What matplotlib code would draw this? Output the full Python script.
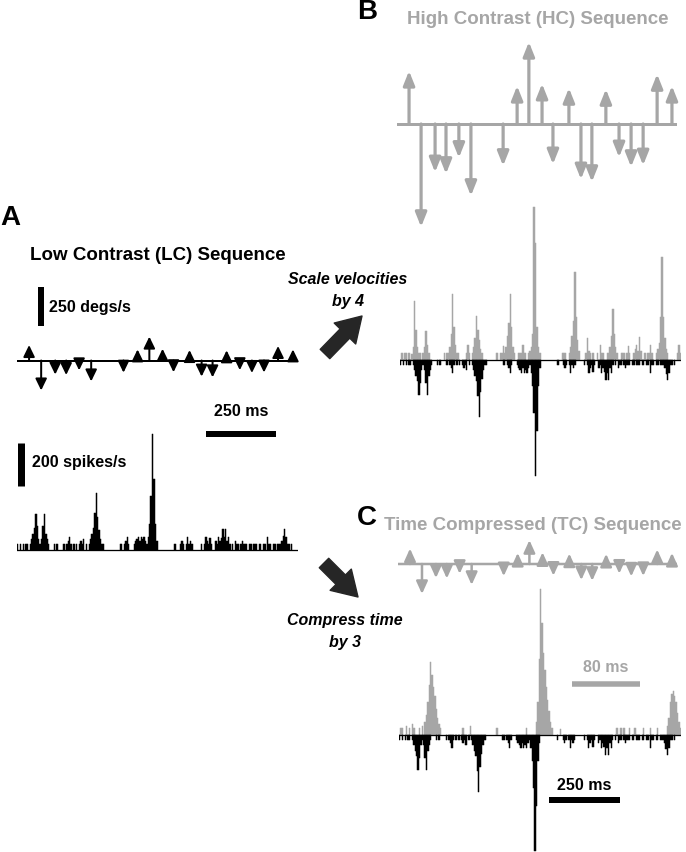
import numpy as np
import matplotlib.pyplot as plt

W, H, DPI = 686, 853, 100
GRAY = '#a6a6a6'
DARK = '#262626'
PT = 72 / DPI  # points per pixel

plt.rcParams['font.family'] = ['Liberation Sans', 'DejaVu Sans']

# velocity pulses of the low contrast sequence (ms, deg/s)
pulse_t = [43, 86, 136, 175, 221, 264, 379, 429, 471, 518,
           557, 614, 657, 696, 746, 793, 836, 879, 929, 982]
pulse_v = [99, -192, -90, -93, -63, -134, -78, 71, 153, 75,
           -75, 67, -103, -108, 65, -62, -80, -77, 93, 71]
HC_GAIN = 4      # high contrast: velocities scaled by 4
TC_FACTOR = 3    # time compressed: time divided by 3
SEQ_MS = 1000

# PSTHs, 5 ms bins (TC in compressed time: 5/3 ms bins), spikes/s
BIN_MS = 5
lc_rate = [25, 0, 25, 0, 25, 0, 25, 25, 0, 25, 50, 75, 100, 165, 110, 50, 25, 50, 110, 165,
           75, 50, 25, 0, 0, 0, 25, 0, 25, 0, 0, 0, 0, 25, 0, 25, 40, 60, 25, 0,
           25, 0, 25, 0, 25, 40, 25, 50, 0, 25, 0, 25, 50, 75, 100, 170, 265, 150, 90, 50,
           25, 25, 0, 0, 0, 0, 0, 0, 0, 0, 0, 0, 0, 25, 25, 0, 25, 40, 60, 25,
           0, 0, 0, 25, 40, 50, 60, 40, 60, 50, 60, 40, 25, 60, 120, 250, 540, 330, 120, 40,
           0, 0, 0, 0, 0, 0, 0, 0, 0, 0, 0, 0, 25, 0, 0, 0, 25, 40, 25, 0,
           25, 60, 25, 40, 25, 0, 0, 0, 0, 0, 0, 25, 0, 25, 60, 40, 25, 55, 25, 0,
           0, 40, 25, 60, 40, 55, 95, 60, 95, 40, 60, 25, 0, 25, 0, 40, 25, 25, 0, 25,
           40, 25, 25, 25, 0, 25, 25, 0, 25, 25, 25, 0, 25, 25, 0, 25, 25, 0, 60, 25,
           25, 0, 25, 25, 0, 25, 25, 25, 40, 65, 95, 60, 25, 25, 0, 25, 0, 0, 0, 0]
hc_rate = [0, 30, 0, 30, 30, 0, 30, 0, 25, 60, 274, 140, 60, 30, 30, 0, 30, 60, 135, 70,
           30, 0, 0, 0, 0, 0, 0, 0, 0, 0, 0, 30, 0, 30, 30, 60, 120, 305, 150, 70,
           30, 30, 0, 0, 0, 0, 0, 30, 68, 30, 0, 30, 60, 100, 205, 140, 90, 50, 30, 0,
           0, 0, 0, 0, 0, 0, 0, 0, 30, 30, 0, 30, 30, 62, 30, 60, 110, 170, 305, 150,
           60, 30, 0, 0, 30, 30, 30, 68, 30, 30, 0, 30, 40, 60, 120, 708, 545, 150, 60, 30,
           0, 0, 0, 0, 0, 0, 0, 0, 0, 0, 0, 0, 0, 0, 0, 30, 30, 30, 0, 0,
           30, 60, 110, 180, 409, 200, 90, 40, 0, 0, 0, 0, 30, 99, 40, 30, 0, 30, 0, 0,
           30, 0, 68, 30, 30, 0, 0, 30, 30, 60, 110, 236, 120, 60, 30, 0, 0, 30, 30, 30,
           0, 30, 62, 30, 0, 0, 30, 50, 70, 40, 104, 40, 0, 0, 30, 0, 30, 30, 68, 30,
           0, 0, 30, 50, 80, 200, 476, 200, 100, 50, 30, 0, 0, 0, 0, 0, 0, 30, 68, 30]
tc_rate = [0, 30, 30, 0, 0, 40, 0, 30, 0, 50, 30, 0, 0, 0, 30, 0, 40, 0, 60, 90,
           150, 230, 336, 280, 220, 180, 120, 80, 50, 30, 0, 0, 0, 0, 0, 0, 0, 0, 0, 0,
           0, 0, 0, 0, 0, 30, 0, 0, 0, 0, 40, 0, 0, 0, 0, 0, 0, 0, 0, 0,
           0, 0, 0, 0, 0, 0, 0, 0, 0, 30, 0, 0, 0, 0, 0, 0, 0, 0, 0, 0,
           0, 0, 0, 0, 0, 0, 0, 0, 0, 0, 30, 0, 0, 0, 0, 0, 0, 60, 150, 350,
           677, 520, 380, 300, 220, 160, 110, 60, 30, 0, 0, 0, 0, 0, 25, 0, 0, 0, 0, 0,
           0, 0, 0, 0, 0, 0, 0, 0, 0, 0, 0, 0, 0, 0, 0, 0, 0, 0, 0, 0,
           0, 0, 0, 0, 0, 0, 0, 0, 0, 0, 0, 0, 0, 0, 30, 0, 0, 30, 0, 30,
           0, 0, 0, 30, 0, 0, 0, 30, 0, 0, 0, 0, 0, 30, 0, 0, 0, 0, 30, 0,
           0, 0, 0, 30, 0, 0, 0, 0, 0, 0, 40, 80, 150, 190, 205, 180, 150, 100, 60, 30]

fig = plt.figure(figsize=(W / DPI, H / DPI), dpi=DPI)


def panel(x0, x1, tmax, base, ppu):
    # axes spanning the full figure height, baseline at pixel row `base`
    ax = fig.add_axes([x0 / W, 0, (x1 - x0) / W, 1])
    ax.set_xlim(0, tmax)
    ax.set_ylim((base - H) / ppu, base / ppu)
    ax.axis('off')
    fx = lambda px: (px - x0) / (x1 - x0) * tmax
    fy = lambda py: (base - py) / ppu
    return ax, fx, fy


def arrows(ax, ts, vs, color, lw, hl, hw):
    for t, v in zip(ts, vs):
        ax.annotate('', xy=(t, v), xytext=(t, 0),
                    arrowprops=dict(arrowstyle=f'-|>,head_length={hl},head_width={hw}',
                                    color=color, lw=lw, shrinkA=0, shrinkB=0,
                                    mutation_scale=10))


def psth(ax, rate, binw, color, sign=1):
    t = np.arange(len(rate)) * binw
    r = np.array(rate, float)
    keep = r > 0
    ax.bar(t[keep], sign * r[keep], width=binw, align='edge', color=color,
           edgecolor=color, linewidth=0.35)


lc_t = np.array(pulse_t, float)
lc_v = np.array(pulse_v, float)

# ---- A: low contrast stimulus and response
axA, fxA, fyA = panel(17, 298, SEQ_MS, 361.5, 39 / 250)
axA.plot([0, SEQ_MS], [0, 0], color='black', lw=2 * PT)
arrows(axA, lc_t, lc_v, 'black', 2 * PT, 0.7, 0.34)
axA.plot([fxA(41), fxA(41)], [fyA(327), fyA(327) + 250], color='black', lw=6 * PT,
         solid_capstyle='butt', clip_on=False)

axAp, fxAp, fyAp = panel(17, 298, SEQ_MS, 550.7, 43 / 200)
psth(axAp, lc_rate, BIN_MS, 'black')
axAp.plot([0, SEQ_MS], [0, 0], color='black', lw=1.3 * PT)
axAp.plot([fxAp(206), fxAp(206) + 250], [fyAp(435)] * 2, color='black', lw=6 * PT,
          solid_capstyle='butt', clip_on=False)
axAp.plot([fxAp(20.5)] * 2, [fyAp(487), fyAp(487) + 200], color='black', lw=7 * PT,
          solid_capstyle='butt', clip_on=False)

# ---- B: high contrast stimulus and response
axB, fxB, fyB = panel(397, 677, SEQ_MS, 125, 0.134)
axB.plot([0, SEQ_MS], [0, 0], color=GRAY, lw=3 * PT)
arrows(axB, lc_t, lc_v * HC_GAIN, GRAY, 3.2 * PT, 0.85, 0.34)

axBp, fxBp, fyBp = panel(400, 681, SEQ_MS, 360.7, 43 / 200)
psth(axBp, hc_rate, BIN_MS, GRAY)
psth(axBp, lc_rate, BIN_MS, 'black', -1)
axBp.plot([0, SEQ_MS], [0, 0], color='black', lw=1.3 * PT)

# ---- C: time compressed stimulus and response
tc_ms = SEQ_MS / TC_FACTOR
axC, fxC, fyC = panel(398, 677, tc_ms, 565, 39 / 250)
axC.plot([0, tc_ms], [0, 0], color=GRAY, lw=2.5 * PT)
arrows(axC, lc_t / TC_FACTOR, lc_v, GRAY, 2.5 * PT, 0.75, 0.34)

axCp, fxCp, fyCp = panel(399, 681, tc_ms, 735.7, 43 / 200)
psth(axCp, tc_rate, BIN_MS / TC_FACTOR, GRAY)
axCp.plot([fxCp(572), fxCp(572) + 80], [fyCp(684.5)] * 2, color=GRAY, lw=5.5 * PT,
          solid_capstyle='butt', clip_on=False)

axCl, fxCl, fyCl = panel(399, 681, SEQ_MS, 735.7, 43 / 200)
psth(axCl, lc_rate, BIN_MS, 'black', -1)
axCl.plot([0, SEQ_MS], [0, 0], color='black', lw=1.3 * PT)
axCl.plot([fxCl(549), fxCl(549) + 250], [fyCl(801)] * 2, color='black', lw=6 * PT,
          solid_capstyle='butt', clip_on=False)

# ---- overlay for labels and the big arrows (pixel coordinates)
ov = fig.add_axes([0, 0, 1, 1])
ov.set_xlim(0, W)
ov.set_ylim(H, 0)
ov.axis('off')

ov.text(0, 218, 'A', fontsize=20, fontweight='bold', ha='left', va='center')
ov.text(357, 12, 'B', fontsize=20, fontweight='bold', ha='left', va='center')
ov.text(357, 518, 'C', fontsize=20, fontweight='bold', ha='left', va='center')

ov.text(30, 255, 'Low Contrast (LC) Sequence', fontsize=13.5, fontweight='bold',
        ha='left', va='center')
ov.text(407, 19, 'High Contrast (HC) Sequence', fontsize=13.5, fontweight='bold',
        color=GRAY, ha='left', va='center')
ov.text(384, 525, 'Time Compressed (TC) Sequence', fontsize=13.5, fontweight='bold',
        color=GRAY, ha='left', va='center')

ov.text(49, 307, '250 degs/s', fontsize=11.5, fontweight='bold', ha='left', va='center')
ov.text(241, 412, '250 ms', fontsize=11.5, fontweight='bold', ha='center', va='center')
ov.text(32, 463, '200 spikes/s', fontsize=11.5, fontweight='bold', ha='left', va='center')
ov.text(606, 667, '80 ms', fontsize=11.5, fontweight='bold', color=GRAY,
        ha='center', va='center')
ov.text(584, 786, '250 ms', fontsize=11.5, fontweight='bold', ha='center', va='center')

ov.text(348, 279, 'Scale velocities', fontsize=11.5, fontweight='bold', style='italic',
        ha='center', va='center')
ov.text(348, 301, 'by 4', fontsize=11.5, fontweight='bold', style='italic',
        ha='center', va='center')
ov.text(345, 620, 'Compress time', fontsize=11.5, fontweight='bold', style='italic',
        ha='center', va='center')
ov.text(345, 643, 'by 3', fontsize=11.5, fontweight='bold', style='italic',
        ha='center', va='center')

big = dict(arrowstyle='simple,head_length=1.1,head_width=1.35,tail_width=0.6',
           color=DARK, mutation_scale=16, shrinkA=0, shrinkB=0)
ov.annotate('', xy=(362, 317), xytext=(325, 355), arrowprops=big)
ov.annotate('', xy=(358, 598), xytext=(324, 564), arrowprops=big)

fig.savefig('out.png', dpi=DPI)
